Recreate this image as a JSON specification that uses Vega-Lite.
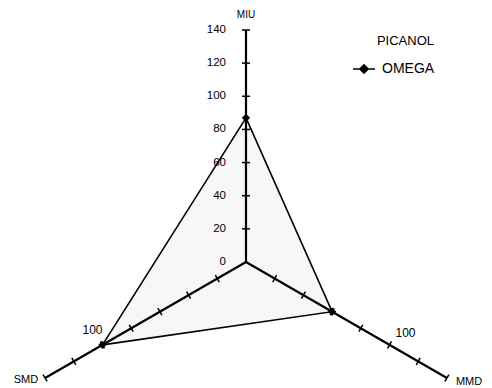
{
  "$schema": "https://vega.github.io/schema/vega-lite/v6.json",
  "width": 492,
  "height": 388,
  "padding": 0,
  "autosize": {"type": "none"},
  "background": "white",
  "config": {"view": {"stroke": null}, "font": "Liberation Sans", "text": {"font": "Liberation Sans", "color": "black"}},
  "datasets": {
    "axes": [
      {"axis": "MIU", "angle": 90, "ticks": [20, 40, 60, 80, 100, 120, 140]},
      {"axis": "MMD", "angle": -30, "ticks": [20, 40, 60, 80, 100, 120, 140]},
      {"axis": "SMD", "angle": 210, "ticks": [20, 40, 60, 80, 100, 120, 140]}
    ],
    "series": [
      {"series": "OMEGA", "axis": "MIU", "value": 87, "order": 0},
      {"series": "OMEGA", "axis": "MMD", "value": 60, "order": 1},
      {"series": "OMEGA", "axis": "SMD", "value": 100, "order": 2}
    ],
    "scaleLabels": [{"v": 0}, {"v": 20}, {"v": 40}, {"v": 60}, {"v": 80}, {"v": 100}, {"v": 120}, {"v": 140}],
    "axisMarks": [
      {"axis": "MMD", "value": 100},
      {"axis": "SMD", "value": 100}
    ]
  },
  "encoding": {
    "x": {"field": "x", "type": "quantitative", "scale": {"domain": [-148.45, 148.45], "nice": false, "zero": false}, "axis": null},
    "y": {"field": "y", "type": "quantitative", "scale": {"domain": [-76.04, 158.1], "nice": false, "zero": false}, "axis": null}
  },
  "layer": [
    {
      "data": {"name": "series"},
      "transform": [
        {"lookup": "axis", "from": {"data": {"name": "axes"}, "key": "axis", "fields": ["angle"]}},
        {"calculate": "datum.value*cos(datum.angle*PI/180)", "as": "x"},
        {"calculate": "datum.value*sin(datum.angle*PI/180)", "as": "y"}
      ],
      "mark": {"type": "line", "interpolate": "linear-closed", "fill": "#f7f7f7", "stroke": "transparent", "strokeWidth": 0},
      "encoding": {"order": {"field": "order", "type": "quantitative"}}
    },
    {
      "data": {"name": "axes"},
      "transform": [
        {"calculate": "0", "as": "x"},
        {"calculate": "0", "as": "y"},
        {"calculate": "140*cos(datum.angle*PI/180)", "as": "x2"},
        {"calculate": "140*sin(datum.angle*PI/180)", "as": "y2"}
      ],
      "mark": {"type": "rule", "color": "black", "strokeWidth": 2.2},
      "encoding": {"x2": {"field": "x2"}, "y2": {"field": "y2"}}
    },
    {
      "data": {"name": "axes"},
      "transform": [
        {"flatten": ["ticks"]},
        {"calculate": "datum.ticks*cos(datum.angle*PI/180)", "as": "x"},
        {"calculate": "datum.ticks*sin(datum.angle*PI/180)", "as": "y"},
        {"calculate": "(270 - datum.angle + 360) % 360", "as": "ta"}
      ],
      "mark": {"type": "point", "shape": "M-1,0L1,0", "size": 64, "filled": false, "stroke": "black", "strokeWidth": 1.5, "opacity": 1},
      "encoding": {"angle": {"field": "ta", "type": "quantitative", "scale": null}}
    },
    {
      "data": {"name": "scaleLabels"},
      "transform": [
        {"calculate": "0", "as": "x"},
        {"calculate": "datum.v", "as": "y"}
      ],
      "mark": {"type": "text", "align": "right", "baseline": "middle", "dx": -20, "fontSize": 11.5},
      "encoding": {"text": {"field": "v", "type": "quantitative"}}
    },
    {
      "data": {"name": "axes"},
      "transform": [
        {"filter": "datum.axis == 'MIU'"},
        {"calculate": "140*cos(datum.angle*PI/180)", "as": "x"},
        {"calculate": "140*sin(datum.angle*PI/180)", "as": "y"}
      ],
      "mark": {"type": "text", "align": "center", "baseline": "middle", "dy": -15, "fontSize": 10},
      "encoding": {"text": {"field": "axis"}}
    },
    {
      "data": {"name": "axes"},
      "transform": [
        {"filter": "datum.axis == 'MMD'"},
        {"calculate": "140*cos(datum.angle*PI/180)", "as": "x"},
        {"calculate": "140*sin(datum.angle*PI/180)", "as": "y"}
      ],
      "mark": {"type": "text", "align": "left", "baseline": "middle", "dx": 9, "dy": 4, "fontSize": 11},
      "encoding": {"text": {"field": "axis"}}
    },
    {
      "data": {"name": "axes"},
      "transform": [
        {"filter": "datum.axis == 'SMD'"},
        {"calculate": "140*cos(datum.angle*PI/180)", "as": "x"},
        {"calculate": "140*sin(datum.angle*PI/180)", "as": "y"}
      ],
      "mark": {"type": "text", "align": "right", "baseline": "middle", "dx": -7, "dy": 2, "fontSize": 11},
      "encoding": {"text": {"field": "axis"}}
    },
    {
      "data": {"name": "series"},
      "transform": [
        {"lookup": "axis", "from": {"data": {"name": "axes"}, "key": "axis", "fields": ["angle"]}},
        {"calculate": "datum.value*cos(datum.angle*PI/180)", "as": "x"},
        {"calculate": "datum.value*sin(datum.angle*PI/180)", "as": "y"}
      ],
      "mark": {"type": "line", "interpolate": "linear-closed", "strokeWidth": 1.6},
      "encoding": {
        "order": {"field": "order", "type": "quantitative"},
        "color": {
          "field": "series", "type": "nominal",
          "scale": {"range": ["black"]},
          "legend": {
            "title": "PICANOL", "orient": "none", "legendX": 352, "legendY": 35, "padding": 0,
            "titleFontSize": 13, "titleFontWeight": "normal", "titleAnchor": "end", "titlePadding": 9,
            "titleColor": "black", "titleFont": "Liberation Sans",
            "labelFontSize": 14, "labelColor": "black", "labelFont": "Liberation Sans", "labelOffset": 6,
            "symbolType": "M-1,0L1,0M0,-0.38L0.38,0L0,0.38L-0.38,0Z", "symbolSize": 484,
            "symbolStrokeWidth": 1.5, "symbolFillColor": "black", "symbolStrokeColor": "black"
          }
        }
      }
    },
    {
      "data": {"name": "series"},
      "transform": [
        {"lookup": "axis", "from": {"data": {"name": "axes"}, "key": "axis", "fields": ["angle"]}},
        {"calculate": "datum.value*cos(datum.angle*PI/180)", "as": "x"},
        {"calculate": "datum.value*sin(datum.angle*PI/180)", "as": "y"}
      ],
      "mark": {"type": "point", "shape": "diamond", "filled": true, "size": 70, "opacity": 1},
      "encoding": {"color": {"field": "series", "type": "nominal", "scale": {"range": ["black"]}}}
    },
    {
      "data": {"name": "axisMarks"},
      "transform": [
        {"filter": "datum.axis == 'MMD'"},
        {"lookup": "axis", "from": {"data": {"name": "axes"}, "key": "axis", "fields": ["angle"]}},
        {"calculate": "datum.value*cos(datum.angle*PI/180)", "as": "x"},
        {"calculate": "datum.value*sin(datum.angle*PI/180)", "as": "y"}
      ],
      "mark": {"type": "text", "align": "center", "baseline": "middle", "dx": 16, "dy": -12, "fontSize": 12},
      "encoding": {"text": {"field": "value", "type": "quantitative"}}
    },
    {
      "data": {"name": "axisMarks"},
      "transform": [
        {"filter": "datum.axis == 'SMD'"},
        {"lookup": "axis", "from": {"data": {"name": "axes"}, "key": "axis", "fields": ["angle"]}},
        {"calculate": "datum.value*cos(datum.angle*PI/180)", "as": "x"},
        {"calculate": "datum.value*sin(datum.angle*PI/180)", "as": "y"}
      ],
      "mark": {"type": "text", "align": "center", "baseline": "middle", "dx": -10, "dy": -15, "fontSize": 12},
      "encoding": {"text": {"field": "value", "type": "quantitative"}}
    }
  ]
}
